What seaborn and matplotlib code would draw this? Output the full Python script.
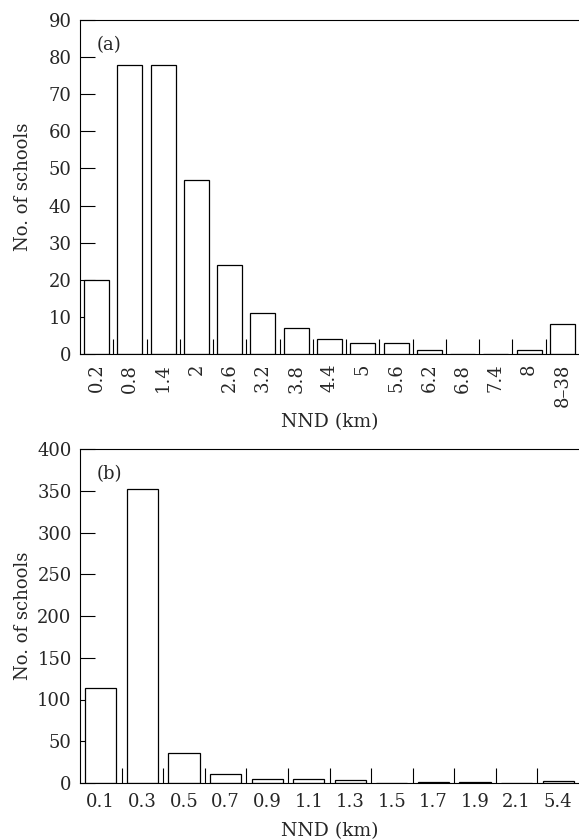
import matplotlib
matplotlib.use("Agg")
import matplotlib.pyplot as plt
import seaborn as sns
import numpy as np
from matplotlib.ticker import FixedLocator

sns.set_theme(style="white")
plt.rcParams['font.family'] = ['DejaVu Serif']

cats_a = ["0.2", "0.8", "1.4", "2", "2.6", "3.2", "3.8", "4.4", "5", "5.6", "6.2", "6.8", "7.4", "8", "8\u201338"]
vals_a = [20, 78, 78, 47, 24, 11, 7, 4, 3, 3, 1, 0, 0, 1, 8]

cats_b = ["0.1", "0.3", "0.5", "0.7", "0.9", "1.1", "1.3", "1.5", "1.7", "1.9", "2.1", "5.4"]
vals_b = [114, 352, 36, 11, 5, 5, 3, 0, 1, 1, 0, 2]

W, H = 579, 840
fig = plt.figure(figsize=(W / 100, H / 100), dpi=100)

def make_ax(top, bottom, left=80, right=579):
    return fig.add_axes([left / W, 1 - bottom / H, (right - left) / W, (bottom - top) / H])

ax_a = make_ax(20, 354)
ax_b = make_ax(449, 783)

FS = 13

def style(ax, cats, vals, ymax, ystep, label, rot):
    sns.barplot(x=cats, y=vals, ax=ax, color="white", edgecolor="black",
                linewidth=0.9, width=0.75, saturation=1)
    n = len(cats)
    ax.set_xlim(-0.5, n - 0.5)
    ax.set_ylim(0, ymax)
    ax.set_yticks(np.arange(0, ymax + 1, ystep))
    ax.xaxis.set_minor_locator(FixedLocator(np.arange(0.5, n - 0.5, 1.0)))
    ax.tick_params(axis="x", which="major", length=0, pad=7, labelsize=FS, labelrotation=rot)
    ax.tick_params(axis="x", which="minor", direction="in", length=11, width=0.8, color="black", bottom=True)
    ax.tick_params(axis="y", which="major", direction="in", length=11, width=0.8, color="black",
                   left=True, pad=6, labelsize=FS)
    for s in ["left", "top", "bottom"]:
        ax.spines[s].set_visible(True)
        ax.spines[s].set_color("black")
        ax.spines[s].set_linewidth(0.8)
    ax.spines["right"].set_visible(False)
    ax.set_xlabel("NND (km)", fontsize=13.5)
    ax.set_ylabel("No. of schools", fontsize=13)
    ax.yaxis.set_label_coords(-0.096, 0.5)
    ax.text(0.034, 0.952, label, transform=ax.transAxes, fontsize=FS, va="top", ha="left")
    ax.grid(False)

style(ax_a, cats_a, vals_a, 90, 10, "(a)", 90)
style(ax_b, cats_b, vals_b, 400, 50, "(b)", 0)
ax_a.xaxis.labelpad = 4
ax_b.xaxis.labelpad = 8

fig.savefig("out.png", dpi=100)
